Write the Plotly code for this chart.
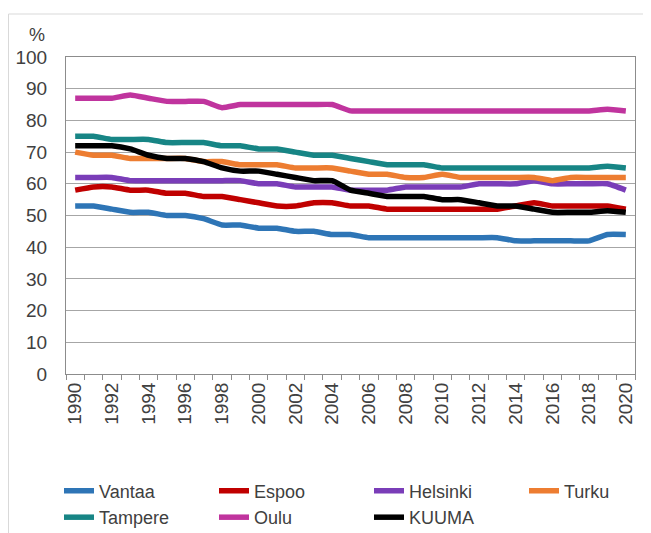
import plotly.graph_objects as go

years = list(range(1990, 2021))

vantaa   = [53, 53, 52, 51, 51, 50, 50, 49, 47, 47, 46, 46, 45, 45, 44, 44, 43, 43, 43, 43, 43, 43, 43, 43, 42, 42, 42, 42, 42, 44, 44]
espoo    = [58, 59, 59, 58, 58, 57, 57, 56, 56, 55, 54, 53, 53, 54, 54, 53, 53, 52, 52, 52, 52, 52, 52, 52, 53, 54, 53, 53, 53, 53, 52]
helsinki = [62, 62, 62, 61, 61, 61, 61, 61, 61, 61, 60, 60, 59, 59, 59, 58, 58, 58, 59, 59, 59, 59, 60, 60, 60, 61, 60, 60, 60, 60, 58]
turku    = [70, 69, 69, 68, 68, 68, 68, 67, 67, 66, 66, 66, 65, 65, 65, 64, 63, 63, 62, 62, 63, 62, 62, 62, 62, 62, 61, 62, 62, 62, 62]
tampere  = [75, 75, 74, 74, 74, 73, 73, 73, 72, 72, 71, 71, 70, 69, 69, 68, 67, 66, 66, 66, 65, 65, 65, 65, 65, 65, 65, 65, 65, 65.5, 65]
oulu     = [87, 87, 87, 88, 87, 86, 86, 86, 84, 85, 85, 85, 85, 85, 85, 83, 83, 83, 83, 83, 83, 83, 83, 83, 83, 83, 83, 83, 83, 83.5, 83]
kuuma    = [72, 72, 72, 71, 69, 68, 68, 67, 65, 64, 64, 63, 62, 61, 61, 58, 57, 56, 56, 56, 55, 55, 54, 53, 53, 52, 51, 51, 51, 51.5, 51]

series = [
    ("Vantaa", vantaa, "#2E75B6"),
    ("Espoo", espoo, "#C00000"),
    ("Helsinki", helsinki, "#7A3DB8"),
    ("Turku", turku, "#ED7D31"),
    ("Tampere", tampere, "#178585"),
    ("Oulu", oulu, "#C0349E"),
    ("KUUMA", kuuma, "#000000"),
]

fig = go.Figure()
for name, vals, col in series:
    fig.add_trace(go.Scatter(x=years, y=vals, name=name, mode="lines",
                             line=dict(color=col, width=5.5, shape="spline", smoothing=0.4)))

font_col = "#404040"
# page has an 8px body margin, so figure is 643x525 placed at (8,8)
fig.update_layout(
    width=643, height=525,
    margin=dict(l=58, r=16, t=49, b=159, autoexpand=False),
    paper_bgcolor="white", plot_bgcolor="white",
    font=dict(family="Liberation Sans, Arial", size=18, color=font_col),
    showlegend=True,
    legend=dict(orientation="h", x=(-7) / 569, xanchor="left", y=-0.311, yanchor="top",
                entrywidth=110, entrywidthmode="pixels", tracegroupgap=0,
                font=dict(size=18, color=font_col)),
    xaxis=dict(range=[1989.5, 2020.5], tickmode="array",
               tickvals=list(range(1990, 2021, 2)),
               ticktext=[str(y) for y in range(1990, 2021, 2)],
               tickangle=-90, ticks="", showgrid=False, zeroline=False,
               showline=True, linecolor="#8C8C8C", linewidth=1, mirror=True,
               minor=dict(ticks="outside", tick0=1989.5, dtick=1, ticklen=5,
                          tickcolor="#8C8C8C", showgrid=False),
               tickfont=dict(size=19, color=font_col)),
    yaxis=dict(range=[0, 100], tickmode="array", tickvals=list(range(0, 101, 10)),
               showgrid=True, gridcolor="#A6A6A6", gridwidth=1, zeroline=False,
               showline=True, linecolor="#8C8C8C", linewidth=1, mirror=True,
               ticks="", ticklen=0, ticklabelstandoff=14,
               tickfont=dict(size=19, color=font_col)),
)

fig.add_annotation(text="%", xref="paper", yref="paper",
                   x=(29 - 58) / 569, y=(366 - 27) / 317, showarrow=False,
                   xanchor="center", yanchor="middle",
                   font=dict(size=18, color=font_col))

fig.add_shape(type="rect", xref="paper", yref="paper",
              x0=(0.5 - 58) / 569, x1=1.2, y0=-0.7, y1=(366 - 6) / 317,
              line=dict(color="#D9D9D9", width=1), fillcolor="rgba(0,0,0,0)", layer="below")

fig.write_html("out.html")
